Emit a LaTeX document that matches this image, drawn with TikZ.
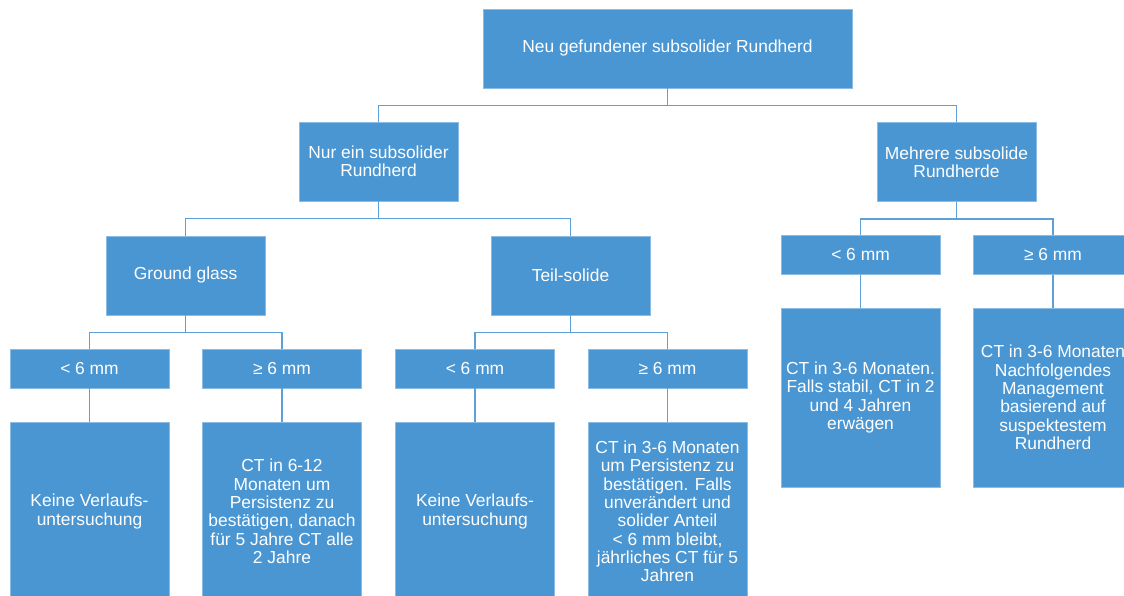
\documentclass[tikz,border=0pt]{standalone}
\usepackage{fontspec}
\setmainfont{Liberation Sans}
\definecolor{boxfill}{RGB}{74,150,210}
\definecolor{boxedge}{RGB}{140,188,228}
\definecolor{linkcol}{RGB}{96,160,216}
\begin{document}
\begin{tikzpicture}[x=1pt,y=-1pt,
  box/.style={rectangle, fill=boxfill, draw=boxedge, line width=0.8pt,
    text=white, align=center, inner sep=0pt, anchor=center,
    font=\fontsize{17.4}{18.3}\selectfont},
  wide/.style={box, minimum width=369pt, minimum height=79pt},
  mid/.style={box, minimum width=159pt, minimum height=79pt},
  small/.style={box, minimum width=159pt, minimum height=39pt},
  tall/.style={box, minimum width=159pt, minimum height=179pt},
  conn/.style={draw=linkcol, line width=1.4pt}]
\useasboundingbox (0,0) rectangle (1124,596);

% tree nodes
\node[wide] (root) at (667.5,48.5) {Neu gefundener subsolider Rundherd};
\node[mid] (one) at (378.5,161.5) {Nur ein subsolider\\Rundherd};
\node[mid] (many) at (956.5,162) {Mehrere subsolide\\Rundherde};
\node[mid] (gg) at (185.5,275.5) {Ground glass};
\node[mid] (ts) at (570.5,275.5) {Teil-solide};
\node[small] (mlt) at (860.5,255) {< 6 mm};
\node[small] (mge) at (1053,255) {≥ 6 mm};
\node[small] (glt) at (89.5,368.5) {< 6 mm};
\node[small] (gge) at (282,368.5) {≥ 6 mm};
\node[small] (tlt) at (475,368.5) {< 6 mm};
\node[small] (tge) at (667.5,368.5) {≥ 6 mm};

% leaf nodes
\node[tall] (gltr) at (89.5,511.5) {Keine Verlaufs-\\untersuchung};
\node[tall] (gger) at (282,511.5) {CT in 6-12\\Monaten um\\Persistenz zu\\bestätigen, danach\\für 5 Jahre CT alle\\2 Jahre};
\node[tall] (tltr) at (475,511.5) {Keine Verlaufs-\\untersuchung};
\node[tall] (tger) at (667.5,511.5) {CT in 3-6 Monaten\\um Persistenz zu\\bestätigen. Falls\\unverändert und\\solider Anteil\\< 6 mm bleibt,\\jährliches CT für 5\\Jahren};
\node[tall] (mltr) at (860.5,397.5) {CT in 3-6 Monaten.\\Falls stabil, CT in 2\\und 4 Jahren\\erwägen};
\node[tall] (mger) at (1053,397.5) {CT in 3-6 Monaten\\Nachfolgendes\\Management\\basierend auf\\suspektestem\\Rundherd};

% elbow connectors
\draw[conn] (root.south) -- ++(0,17) coordinate (j0);
\draw[conn] (j0) -| (one.north);
\draw[conn] (j0) -| (many.north);
\draw[conn] (one.south) -- ++(0,17) coordinate (j1);
\draw[conn] (j1) -| (gg.north);
\draw[conn] (j1) -| (ts.north);
\draw[conn] (many.south) -- ++(0,17) coordinate (j2);
\draw[conn] (j2) -| (mlt.north);
\draw[conn] (j2) -| (mge.north);
\draw[conn] (gg.south) -- ++(0,17) coordinate (j3);
\draw[conn] (j3) -| (glt.north);
\draw[conn] (j3) -| (gge.north);
\draw[conn] (ts.south) -- ++(0,17) coordinate (j4);
\draw[conn] (j4) -| (tlt.north);
\draw[conn] (j4) -| (tge.north);

% straight connectors to the leaves
\draw[conn] (glt.south) -- (gltr.north);
\draw[conn] (gge.south) -- (gger.north);
\draw[conn] (tlt.south) -- (tltr.north);
\draw[conn] (tge.south) -- (tger.north);
\draw[conn] (mlt.south) -- (mltr.north);
\draw[conn] (mge.south) -- (mger.north);
\end{tikzpicture}
\end{document}
